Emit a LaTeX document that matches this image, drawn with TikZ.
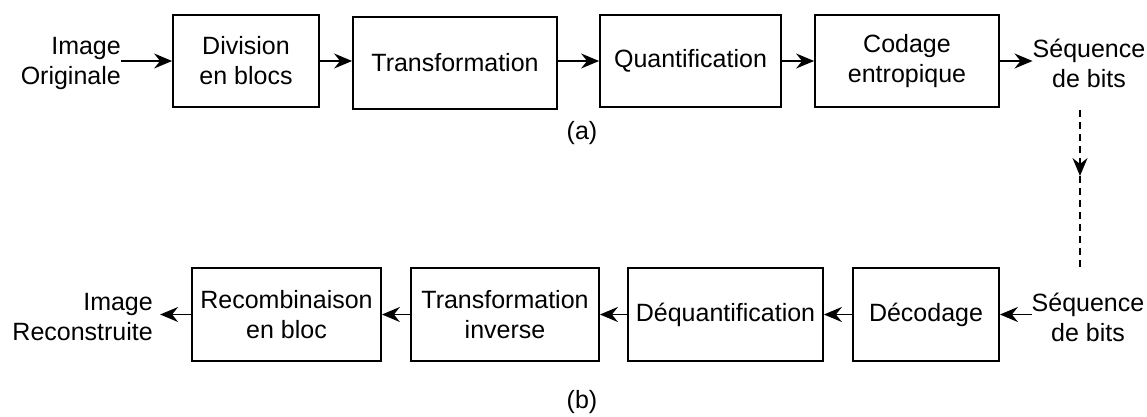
\documentclass[tikz,border=0pt]{standalone}
\usepackage{fontspec}
\setmainfont{Liberation Sans}
\usetikzlibrary{arrows.meta}
\begin{document}
\begin{tikzpicture}[x=1pt,y=-1pt,
  every node/.style={font=\fontsize{25}{30}\selectfont, inner sep=0pt},
  blockbox/.style={draw, line width=1.8pt, align=center},
  lbl/.style={align=center},
  tip/.style={-{Stealth[length=18pt,width=15pt,inset=6pt]}},
  flow/.style={line width=1.6pt, tip},
  dashflow/.style={line width=1.6pt, dash pattern=on 7pt off 5pt}]
\useasboundingbox (0,0) rectangle (1147,417);

% compression chain
\node[lbl, align=right, anchor=east] (inL) at (121,63) {Image\\Originale};
\node[blockbox, minimum width=146pt, minimum height=92pt] (div) at (246,61) {Division\\en blocs};
\node[blockbox, minimum width=204pt, minimum height=92pt] (tr) at (455,63) {Transformation};
\node[blockbox, minimum width=181pt, minimum height=92pt] (qu) at (690.5,61) {Quantification};
\node[blockbox, minimum width=184pt, minimum height=92pt] (cod) at (907,61) {Codage\\entropique};
\node[lbl] (seqA) at (1089,63.5) {Séquence\\de bits};
\node (capA) at (582,133) {(a)};

\draw[flow] (div.west -| inL.east) -- (div.west);
\draw[flow] (div.east) -- (div.east -| tr.west);
\draw[flow] (tr.east |- qu.west) -- (qu.west);
\draw[flow] (qu.east) -- (cod.west);
\draw[flow] (cod.east) -- (cod.east -| seqA.west);

% transmission link
\coordinate (dtop) at (1080,110);
\coordinate (dmid) at (1080,176);
\coordinate (dbot) at (1080,268);
\draw[dashflow, tip] (dtop) -- (dmid);
\draw[dashflow] (dmid) -- (dbot);

% decompression chain
\node[lbl] (seqB) at (1088,317.5) {Séquence\\de bits};
\node[blockbox, minimum width=146pt, minimum height=93pt] (dec) at (926,314.5) {Décodage};
\node[blockbox, minimum width=195pt, minimum height=93pt] (deq) at (725.5,314.5) {Déquantification};
\node[blockbox, minimum width=188pt, minimum height=93pt] (tinv) at (505,314.5) {Transformation\\inverse};
\node[blockbox, minimum width=189pt, minimum height=93pt] (rec) at (286.5,314.5) {Recombinaison\\en bloc};
\node[lbl, align=right, anchor=east] (outL) at (153,317) {Image\\Reconstruite};
\node (capB) at (582,402) {(b)};

\draw[flow] (dec.east -| seqB.west) -- (dec.east);
\draw[flow] (dec.west) -- (deq.east);
\draw[flow] (deq.west) -- (tinv.east);
\draw[flow] (tinv.west) -- (rec.east);
\draw[flow] (rec.west) -- ++(-31,0) coordinate (outTip);
\end{tikzpicture}
\end{document}
